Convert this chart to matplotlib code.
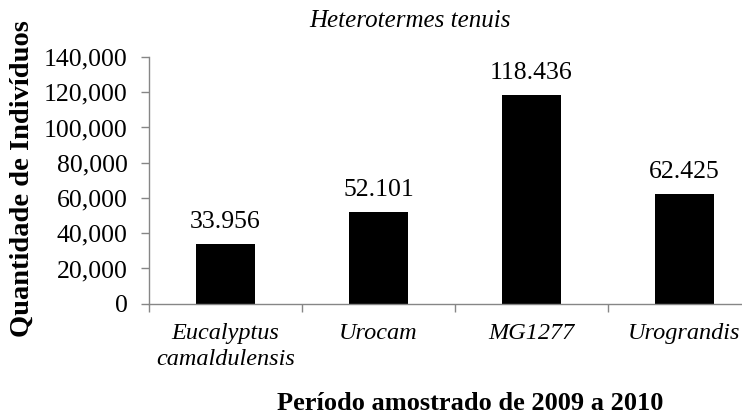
import matplotlib
matplotlib.use("Agg")
import matplotlib.pyplot as plt
from matplotlib.ticker import FuncFormatter

plt.rcParams['font.family'] = ['Liberation Serif', 'DejaVu Serif']

categories = ['Eucalyptus\ncamaldulensis', 'Urocam', 'MG1277', 'Urograndis']
individuos = [33956, 52101, 118436, 62425]
bar_labels = ['33.956', '52.101', '118.436', '62.425']
yticks = [0, 20000, 40000, 60000, 80000, 100000, 120000, 140000]

fig = plt.figure(figsize=(7.42, 4.17), dpi=100)
ax = fig.add_axes([149 / 742, 113.3 / 417, 612 / 742, 246.7 / 417])

x = range(len(categories))
bars = ax.bar(x, individuos, width=0.39, color='black')

for b, lab in zip(bars, bar_labels):
    ax.annotate(lab, (b.get_x() + b.get_width() / 2, b.get_height()),
                xytext=(0, 8), textcoords='offset points',
                ha='center', va='bottom', fontsize=18.5)

ax.set_xlim(-0.5, 3.5)
ax.set_ylim(0, 140000)
ax.set_yticks(yticks)
ax.yaxis.set_major_formatter(FuncFormatter(lambda v, p: f'{int(v):,}'))

ax.set_xticks(list(x))
ax.set_xticklabels(categories, fontstyle='italic', fontsize=17.5, linespacing=1.3)
ax.set_xticks([-0.5, 0.5, 1.5, 2.5, 3.5], minor=True)
ax.tick_params(axis='x', which='major', length=0, pad=14)
ax.tick_params(axis='x', which='minor', length=6, color='#868686', width=1)
ax.tick_params(axis='y', length=5.5, color='#868686', width=1, pad=10, labelsize=18.5)

for s in ['top', 'right']:
    ax.spines[s].set_visible(False)
for s in ['left', 'bottom']:
    ax.spines[s].set_color('#868686')
    ax.spines[s].set_linewidth(1)

fig.text(410 / 742, 1 - 21 / 417, 'Heterotermes tenuis', fontstyle='italic',
         fontsize=18, ha='center', va='center')
fig.text(22 / 742, 1 - 179 / 417, 'Quantidade de Indivíduos', fontweight='bold',
         fontsize=20.5, rotation=90, ha='center', va='center')
fig.text(470 / 742, 1 - 404 / 417, 'Período amostrado de 2009 a 2010',
         fontweight='bold', fontsize=19, ha='center', va='center')

fig.savefig('out.png', dpi=100)
